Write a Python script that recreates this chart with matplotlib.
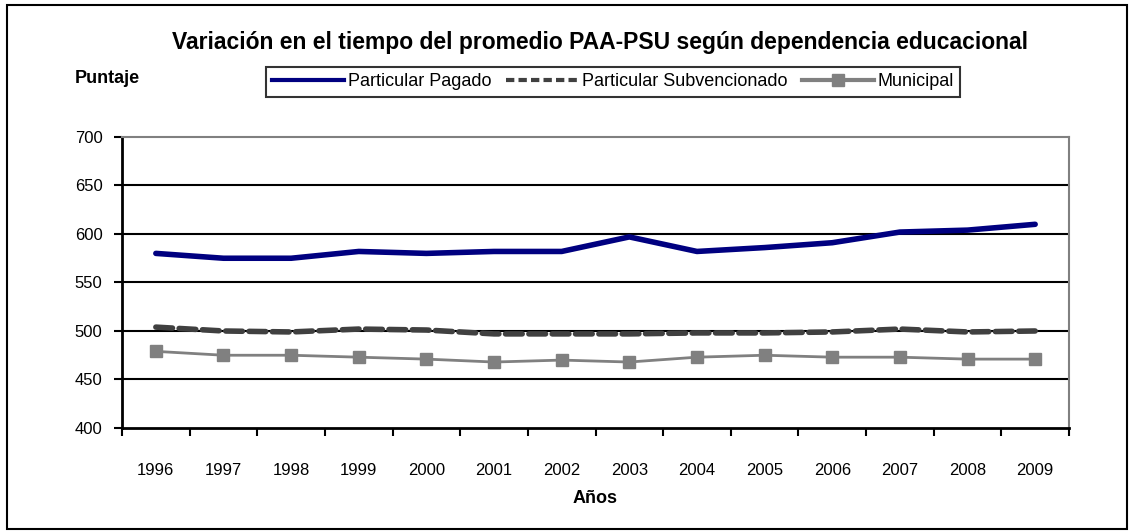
import matplotlib
matplotlib.use("Agg")
import matplotlib.pyplot as plt
from matplotlib.font_manager import findfont, FontProperties
from matplotlib.lines import Line2D
from matplotlib.patches import Rectangle

# Data
years = [1996, 1997, 1998, 1999, 2000, 2001, 2002, 2003, 2004, 2005, 2006, 2007, 2008, 2009]
particular_pagado = [580, 575, 575, 582, 580, 582, 582, 597, 582, 586, 591, 602, 604, 610]
particular_subvencionado = [504, 500, 499, 502, 501, 497, 497, 497, 498, 498, 499, 502, 499, 500]
municipal = [479, 475, 475, 473, 471, 468, 470, 468, 473, 475, 473, 473, 471, 471]
series_names = ["Particular Pagado", "Particular Subvencionado", "Municipal"]
y_ticks = [400, 450, 500, 550, 600, 650, 700]

# Narrow font like Arial Narrow if available
narrow = "Liberation Sans Narrow"
try:
    findfont(FontProperties(family=narrow), fallback_to_default=False)
    plt.rcParams["font.family"] = [narrow, "DejaVu Sans"]
except Exception:
    plt.rcParams["font.family"] = ["Liberation Sans", "DejaVu Sans"]

fig = plt.figure(figsize=(11.33, 5.31), dpi=100)
ax = fig.add_axes([0.1077, 0.194, 0.8358, 0.548])

x = list(range(len(years)))
ax.plot(x, particular_pagado, color="#000080", lw=4, solid_capstyle="round", zorder=4)
ax.plot(x, particular_subvencionado, color="#404040", lw=4, linestyle=(0, (3, 1.2)),
        dash_capstyle="round", zorder=3)
ax.plot(x, municipal, color="#808080", lw=2, marker="s", markersize=8, zorder=3)

ax.set_xlim(-0.5, len(years) - 0.5)
ax.set_ylim(400, 700)
ax.set_yticks(y_ticks)
ax.set_yticklabels([str(v) for v in y_ticks], fontsize=12)
ax.set_xticks(x)
ax.set_xticklabels([str(y) for y in years], fontsize=12)
ax.set_xticks([i - 0.5 for i in range(len(years) + 1)], minor=True)
ax.tick_params(axis="x", which="major", length=0, pad=25)
ax.tick_params(axis="x", which="minor", length=6, width=1.5, direction="out", color="black")
ax.tick_params(axis="y", length=6, width=1.5, direction="out", pad=8)

for v in y_ticks[1:-1]:
    ax.axhline(v, color="black", lw=1.5, zorder=1)
ax.spines["top"].set_color("#808080")
ax.spines["right"].set_color("#808080")
ax.spines["top"].set_linewidth(1.5)
ax.spines["right"].set_linewidth(1.5)
ax.spines["left"].set_linewidth(2)
ax.spines["bottom"].set_linewidth(2)

ax.set_xlabel("Años", fontsize=13, fontweight="bold", labelpad=9)

fig.text(0.53, 0.92, "Variación en el tiempo del promedio PAA-PSU según dependencia educacional",
         ha="center", va="center", fontsize=16.5, fontweight="bold")
fig.text(0.066, 0.853, "Puntaje", ha="left", va="center", fontsize=13, fontweight="bold")

handles = [
    Line2D([], [], color="#000080", lw=3),
    Line2D([], [], color="#404040", lw=3, linestyle=(0, (2, 1))),
    Line2D([], [], color="#808080", lw=3, marker="s", markersize=8),
]
leg = fig.legend(handles, series_names, loc="center", bbox_to_anchor=(0.541, 0.846),
                 ncol=3, fontsize=13, frameon=True, fancybox=False, edgecolor="black",
                 handlelength=4, handletextpad=0.2, columnspacing=0.8, borderpad=0.35,
                 borderaxespad=0)
leg.get_frame().set_linewidth(1.5)

# outer border around the chart
fig.patches.append(Rectangle((0.006, 0.004), 0.989, 0.986, transform=fig.transFigure,
                             fill=False, edgecolor="black", lw=1.5))

fig.savefig("out.png", dpi=100, facecolor="white")
